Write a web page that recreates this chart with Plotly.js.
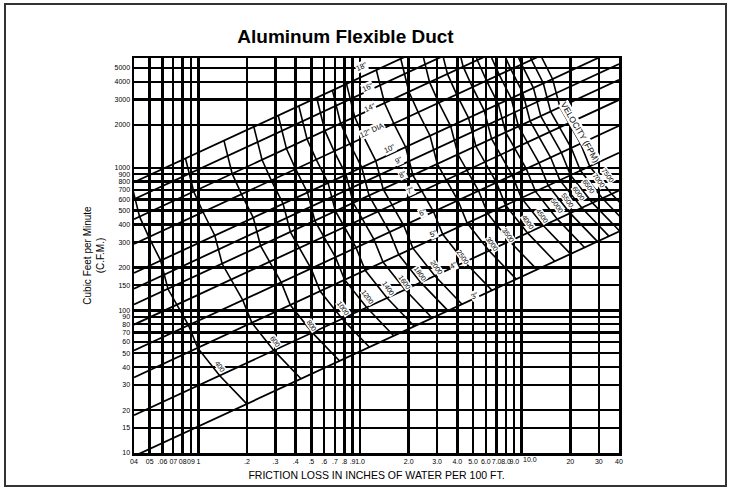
<!DOCTYPE html>
<html><head><meta charset="utf-8">
<script src="https://cdn.plot.ly/plotly-3.0.1.min.js"></script>
<style>
html,body{margin:0;padding:0;background:#fff;}
#frame{position:absolute;left:4px;top:3px;width:723px;height:484px;border:2px solid #333;box-sizing:border-box;}
#chart{position:absolute;left:0;top:0;width:732px;height:498px;}
</style></head><body>
<div id="frame"></div>
<div id="chart"></div>
<script>
// ---- axis ticks ----
const frictionTicks = [0.04,0.05,0.06,0.07,0.08,0.09,0.1,0.2,0.3,0.4,0.5,0.6,0.7,0.8,0.9,1,2,3,4,5,6,7,8,9,10,20,30,40];
const frictionTickText = ["04","05",".06","07","08","09","1",".2",".3",".4",".5",".6",".7",".8",".9","1.0","2.0","3.0","4.0","5.0","6.0","7.0","8.0","9.0","","20","30","40"];
const frictionTenLabel = "10.0";   // drawn a little to the right of its line, as in the reference
const cfmTicks = [10,15,20,30,40,50,60,70,80,90,100,150,200,300,400,500,600,700,800,900,1000,2000,3000,4000,5000];
const cfmTickText = ["10","15","20","30","40","50","60","70","80","90","100","150","200","300","400","500","600","700","800","900","1000","2000","3000","4000","5000"];

// ---- duct diameter lines (friction at both ends, CFM at both ends) ----
const diameterNames = ['18"','16"','14"','12"','10"','9"','8"','7"','6"','5"','4"','3"'];
const diameterFriction = [0.04, 40];
const diameterCfmLeft  = [790, 601, 436, 292, 183, 142, 110, 79.5, 52.3, 33.9, 18.4, 9.5];
const diameterCfmRight = [29690, 22590, 16380, 10970, 6877, 5336, 4134, 2988, 1965, 1274, 691.5, 357];

// ---- velocity lines (points where each velocity crosses the diameter lines) ----
const velocityFPM = [400,600,800,1000,1200,1400,1600,1800,2000,2500,3000,3500,4000,4500,5000,5500,6000,6500,7000,7500];
const velocityFriction = [
  [0.0385,0.0433,0.0494,0.0584,0.0649,0.087,0.0991,0.1353,0.2],
  [0.0833,0.0936,0.1069,0.1264,0.1404,0.1883,0.2145,0.2929,0.4329],
  [0.1441,0.1619,0.1848,0.2186,0.2428,0.3256,0.3708,0.5068,0.7486],
  [0.2204,0.2477,0.2827,0.3344,0.3715,0.4981,0.5673,0.7749,1.145],
  [0.312,0.3505,0.4,0.4732,0.5258,0.705,0.8028,1.097,1.621],
  [0.4183,0.4701,0.5365,0.6347,0.7051,0.9454,1.077,1.471,2.174],
  [0.5396,0.6063,0.692,0.8188,0.9094,1.219,1.388,1.897,2.804],
  [0.6754,0.759,0.8662,1.025,1.138,1.526,1.739,2.375,3.51],
  [0.8253,0.9273,1.058,1.252,1.391,1.865,2.124,2.901,4.287],
  [1.262,1.418,1.619,1.915,2.128,2.852,3.249,4.439,6.558],
  [1.787,2.007,2.291,2.711,3.011,4.037,4.598,6.283,9.284],
  [2.398,2.693,3.074,3.637,4.04,5.416,6.169,8.426,12.45],
  [3.092,3.474,3.965,4.691,5.211,6.986,7.956,10.87,16.07],
  [3.868,4.346,4.961,5.869,6.52,8.74,9.954,13.6,20.1],
  [4.727,5.313,6.062,7.173,7.966,10.68,12.17,16.62,24.57],
  [5.671,6.371,7.271,8.603,9.555,12.81,14.59,19.93,29.46],
  [7.518,8.582,10.15,11.28,15.12,17.22,23.52,34.77],
  [8.756,9.993,11.82,13.13,17.61,20.05,27.4,40.49],
  [10.08,11.51,13.61,15.12,20.28,23.09,31.55,46.63],
  [13.13,15.53,17.25,23.13,26.34,35.98,53.18]
];
const velocityCFM = [
  [774,454,326,224,141,78.5,54.5,34.9,22],
  [1161,681,489,335,212,118,81.8,52.4,33],
  [1548,908,652,447,283,157,109,69.8,44.1],
  [1935,1136,815,559,353,196,136,87.3,55.1],
  [2322,1363,977,671,424,236,164,105,66.1],
  [2709,1590,1140,782,495,275,191,122,77.1],
  [3096,1817,1303,894,565,314,218,140,88.1],
  [3483,2044,1466,1006,636,353,245,157,99.1],
  [3870,2271,1629,1118,707,393,273,175,110],
  [4838,2839,2036,1397,883,491,341,218,138],
  [5805,3407,2444,1676,1060,589,409,262,165],
  [6773,3975,2851,1956,1237,687,477,305,193],
  [7740,4542,3258,2235,1413,785,545,349,220],
  [8708,5110,3665,2515,1590,884,614,393,248],
  [9675,5678,4073,2794,1767,982,682,436,275],
  [10643,6246,4480,3073,1943,1080,750,480,303],
  [6814,4887,3353,2120,1178,818,524,330],
  [7381,5294,3632,2296,1276,886,567,358],
  [7949,5702,3912,2473,1374,954,611,385],
  [6109,4191,2650,1473,1023,655,413]
];

// ---- label anchors (data units) ----
const diameterLabelText = ['18"','16"','14"','12" DIA','10"','9"','8"','7"','6"','5"','4"','3"'];
const diameterLabelFriction = [1.024,1.109,1.152,1.18,1.532,1.724,1.835,2.057,2.44,2.866,3.773,5.14];
const diameterLabelCFM = [5110,3672,2664,1820,1357,1130,898,687,486,343,206,127];
const velocityLabelFriction = [0.136,0.298,0.502,0.788,1.125,1.495,1.897,2.348,2.979,4.35,6.52,8.26,10.98,13.28,16.45,19.31,22.58,26.03,30.03,34.13];
const velocityLabelCFM = [40.3,60.2,78.6,102.8,124,141.7,157.8,180.3,200.7,235.7,291.9,333.4,413.5,459.6,539.8,591.6,662,740.6,815.3,883.8];
const velocityTitle = "VELOCITY (FPM)";
const velocityTitleFriction = 22.9, velocityTitleCFM = 1771;

const SANS = "Liberation Sans, Arial, Helvetica, sans-serif";
const traces = [];
diameterNames.forEach((n,i)=>{
  traces.push({type:'scatter',mode:'lines',x:diameterFriction,y:[diameterCfmLeft[i],diameterCfmRight[i]],
    line:{color:'#000',width:1.8},hoverinfo:'skip',showlegend:false,name:n});
});
velocityFPM.forEach((v,i)=>{
  traces.push({type:'scatter',mode:'lines',x:velocityFriction[i],y:velocityCFM[i],
    line:{color:'#000',width:1.6},hoverinfo:'skip',showlegend:false,name:v+' FPM'});
});

const annotations = [];
diameterLabelText.forEach((t,i)=>{
  annotations.push({x:Math.log10(diameterLabelFriction[i]),y:Math.log10(diameterLabelCFM[i]),xref:'x',yref:'y',
    text:t,showarrow:false,textangle:-25,bgcolor:'#fff',borderpad:0,
    font:{family:SANS,size:7.5,color:'#000'}});
});
velocityFPM.forEach((v,i)=>{
  annotations.push({x:Math.log10(velocityLabelFriction[i]),y:Math.log10(velocityLabelCFM[i]),xref:'x',yref:'y',
    text:String(v),showarrow:false,textangle:55,bgcolor:'#fff',borderpad:0,
    font:{family:SANS,size:7,color:'#000'}});
});
annotations.push({x:Math.log10(velocityTitleFriction),y:Math.log10(velocityTitleCFM),xref:'x',yref:'y',
  text:velocityTitle,showarrow:false,textangle:60,bgcolor:'#fff',borderpad:0,
  font:{family:SANS,size:8.5,color:'#000'}});
annotations.push({x:Math.log10(10),y:0,xref:'x',yref:'paper',xanchor:'left',yanchor:'top',xshift:-1,yshift:-1,
  text:frictionTenLabel,showarrow:false,font:{family:SANS,size:7,color:'#000'}});

const layout = {
  width:732,height:498,
  margin:{l:134,r:113,t:58,b:45},
  paper_bgcolor:'rgba(0,0,0,0)',plot_bgcolor:'#fff',
  showlegend:false,
  title:{text:'<b>Aluminum Flexible Duct</b>',font:{family:SANS,size:19,color:'#000'},x:0.472,xanchor:'center',y:0.927,yanchor:'middle'},
  xaxis:{type:'log',range:[Math.log10(0.04),Math.log10(40)],tickvals:frictionTicks,ticktext:frictionTickText,
    showgrid:true,gridcolor:'#000',gridwidth:2.4,zeroline:false,showline:true,linecolor:'#000',linewidth:2.5,mirror:true,
    ticks:'',tickangle:0,ticklabelstandoff:0,tickfont:{family:SANS,size:7,color:'#000'},
    title:{text:'FRICTION LOSS IN INCHES OF WATER PER 100 FT.',font:{family:SANS,size:10.5,color:'#000'},standoff:8}},
  yaxis:{type:'log',range:[1,Math.log10(5875)],tickvals:cfmTicks,ticktext:cfmTickText,
    showgrid:true,gridcolor:'#000',gridwidth:2.4,zeroline:false,showline:true,linecolor:'#000',linewidth:2.5,mirror:true,
    ticks:'',tickfont:{family:SANS,size:7,color:'#000'},
    title:{text:'Cubic Feet per Minute<br>(C.F.M.)',font:{family:SANS,size:10,color:'#000'},standoff:8}},
  annotations:annotations
};
Plotly.newPlot('chart',traces,layout,{staticPlot:true,displayModeBar:false});
</script>
</body></html>
